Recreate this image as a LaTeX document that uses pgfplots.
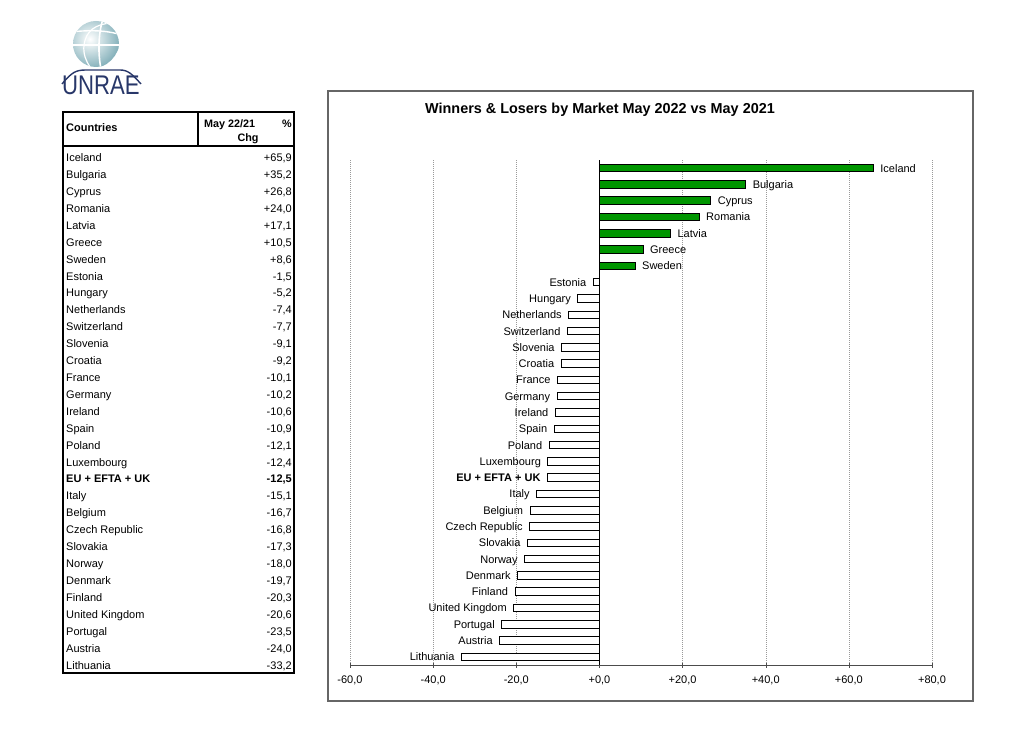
\documentclass[border=0pt]{standalone}
\usepackage{fontspec}
\setmainfont{Liberation Sans}
\usepackage{pgfplots}
\usepackage{pgfplotstable}
\pgfplotsset{compat=1.18}
\definecolor{bargreen}{RGB}{0,150,0}
\definecolor{logonavy}{RGB}{40,55,105}
\definecolor{logoteal}{RGB}{130,175,185}

\pgfplotstableread[col sep=comma]{
y,x,name
0,65.9,Iceland
1,35.2,Bulgaria
2,26.8,Cyprus
3,24.0,Romania
4,17.1,Latvia
5,10.5,Greece
6,8.6,Sweden
}\pos

\pgfplotstableread[col sep=comma]{
y,x,name
7,-1.5,Estonia
8,-5.2,Hungary
9,-7.4,Netherlands
10,-7.7,Switzerland
11,-9.1,Slovenia
12,-9.2,Croatia
13,-10.1,France
14,-10.2,Germany
15,-10.6,Ireland
16,-10.9,Spain
17,-12.1,Poland
18,-12.4,Luxembourg
20,-15.1,Italy
21,-16.7,Belgium
22,-16.8,Czech Republic
23,-17.3,Slovakia
24,-18.0,Norway
25,-19.7,Denmark
26,-20.3,Finland
27,-20.6,United Kingdom
28,-23.5,Portugal
29,-24.0,Austria
30,-33.2,Lithuania
}\negs

\pgfplotstableread[col sep=comma]{
y,x,name
19,-12.5,EU + EFTA + UK
}\eu

\newcommand{\tf}{\fontsize{11}{13}\selectfont}

\begin{document}
\begin{tikzpicture}[x=1pt,y=1pt]
\fill[white] (0,0) rectangle (1024,729);

% ---------- logo ----------
\begin{scope}
  \clip (96,685) circle (23);
  \shade[inner color=white, outer color=logoteal] (90,690) circle (30);
  \draw[white, line width=1.6pt] (70,684) -- (122,684);
  \draw[white, line width=1.4pt] (70,697) .. controls (90,699) and (105,699) .. (122,694);
  \draw[white, line width=1.6pt] (103,710) .. controls (98,695) and (98,675) .. (101,660);
  \draw[white, line width=1.2pt] (112,706) .. controls (95,705) and (86,698) .. (84,684) .. controls (83,675) and (86,668) .. (90,662);
\end{scope}
\draw[logonavy, line width=1.4pt] (62,645) .. controls (72,657) and (76,659) .. (86,659) -- (120,659) .. controls (128,659) and (132,655) .. (141,645);
\node[anchor=base, inner sep=0, text=logonavy, xscale=0.82] at (101,634) {\fontsize{27}{27}\selectfont UNRAE};

% ---------- table ----------
\draw[line width=1.8pt] (63,617) rectangle (294,56);
\draw[line width=1.8pt] (63,583) -- (294,583);
\draw[line width=1.8pt] (198,617) -- (198,583);
\node[anchor=base west, inner sep=0, font=\fontsize{11}{13}\selectfont\bfseries] at (66,597) {Countries};
\node[anchor=base west, inner sep=0, font=\fontsize{10.8}{13}\selectfont\bfseries] at (204,601) {May 22/21};
\node[anchor=base east, inner sep=0, font=\fontsize{10.8}{13}\selectfont\bfseries] at (292,601) {\%};
\node[anchor=base, inner sep=0, font=\fontsize{10.8}{13}\selectfont\bfseries] at (248,587) {Chg};

\foreach \n/\v [count=\i from 0] in {Iceland/{+65,9},Bulgaria/{+35,2},Cyprus/{+26,8},Romania/{+24,0},Latvia/{+17,1},Greece/{+10,5},Sweden/{+8,6},Estonia/{-1,5},Hungary/{-5,2},Netherlands/{-7,4},Switzerland/{-7,7},Slovenia/{-9,1},Croatia/{-9,2},France/{-10,1},Germany/{-10,2},Ireland/{-10,6},Spain/{-10,9},Poland/{-12,1},Luxembourg/{-12,4}}
{
  \node[anchor=base west, inner sep=0, font=\tf] at (66,{729-161.7-16.91*\i}) {\n};
  \node[anchor=base east, inner sep=0, font=\tf] at (292,{729-161.7-16.91*\i}) {\v};
}
\node[anchor=base west, inner sep=0, font=\tf\bfseries] at (66,{729-161.7-16.91*19}) {EU + EFTA + UK};
\node[anchor=base east, inner sep=0, font=\tf\bfseries] at (292,{729-161.7-16.91*19}) {-12,5};
\foreach \n/\v [count=\i from 20] in {Italy/{-15,1},Belgium/{-16,7},Czech Republic/{-16,8},Slovakia/{-17,3},Norway/{-18,0},Denmark/{-19,7},Finland/{-20,3},United Kingdom/{-20,6},Portugal/{-23,5},Austria/{-24,0},Lithuania/{-33,2}}
{
  \node[anchor=base west, inner sep=0, font=\tf] at (66,{729-161.7-16.91*\i}) {\n};
  \node[anchor=base east, inner sep=0, font=\tf] at (292,{729-161.7-16.91*\i}) {\v};
}

% ---------- chart frame and title ----------
\draw[black!60, line width=1.5pt] (328,638) rectangle (973,28);
\node[font=\fontsize{14.4}{17}\selectfont\bfseries] at (600,619) {Winners \& Losers by Market May 2022 vs May 2021};

\begin{axis}[
  at={(350pt,64pt)}, anchor=south west,
  scale only axis, width=582pt, height=505pt,
  xmin=-60, xmax=80, ymin=-0.5, ymax=30.5, y dir=reverse,
  axis x line=bottom, axis y line=none,
  axis line style={black!70, -},
  xtick={-60,-40,-20,0,20,40,60,80},
  xticklabels={{-60,0},{-40,0},{-20,0},{+0,0},{+20,0},{+40,0},{+60,0},{+80,0}},
  ytick=\empty,
  xmajorgrids, major grid style={black!40, dash pattern=on 1pt off 1pt},
  tick align=center, major tick length=5pt, tick style={black!70},
  xticklabel style={font=\tf, yshift=-5pt},
  xbar, bar width=7.5pt, bar shift=0pt,
  clip=false,
  nodes near coords, point meta=explicit symbolic,
  every node near coord/.append style={font=\tf, text height=7.9pt, text depth=0pt, inner sep=1.5pt},
]
\addplot[draw=black, fill=bargreen, line width=1pt, bar shift=0pt,
  every node near coord/.append style={anchor=west, xshift=5pt, text=black}]
  table[x=x, y=y, meta=name] {\pos};
\addplot[draw=black, fill=white, line width=1pt, bar shift=0pt,
  every node near coord/.append style={anchor=east, xshift=-5pt, text=black}]
  table[x=x, y=y, meta=name] {\negs};
\addplot[draw=black, fill=white, line width=1pt, bar shift=0pt,
  every node near coord/.append style={anchor=east, xshift=-5pt, text=black, font=\tf\bfseries}]
  table[x=x, y=y, meta=name] {\eu};
\draw[black, line width=0.8pt] (axis cs:0,-0.5) -- (axis cs:0,30.5);
\end{axis}
\end{tikzpicture}
\end{document}
